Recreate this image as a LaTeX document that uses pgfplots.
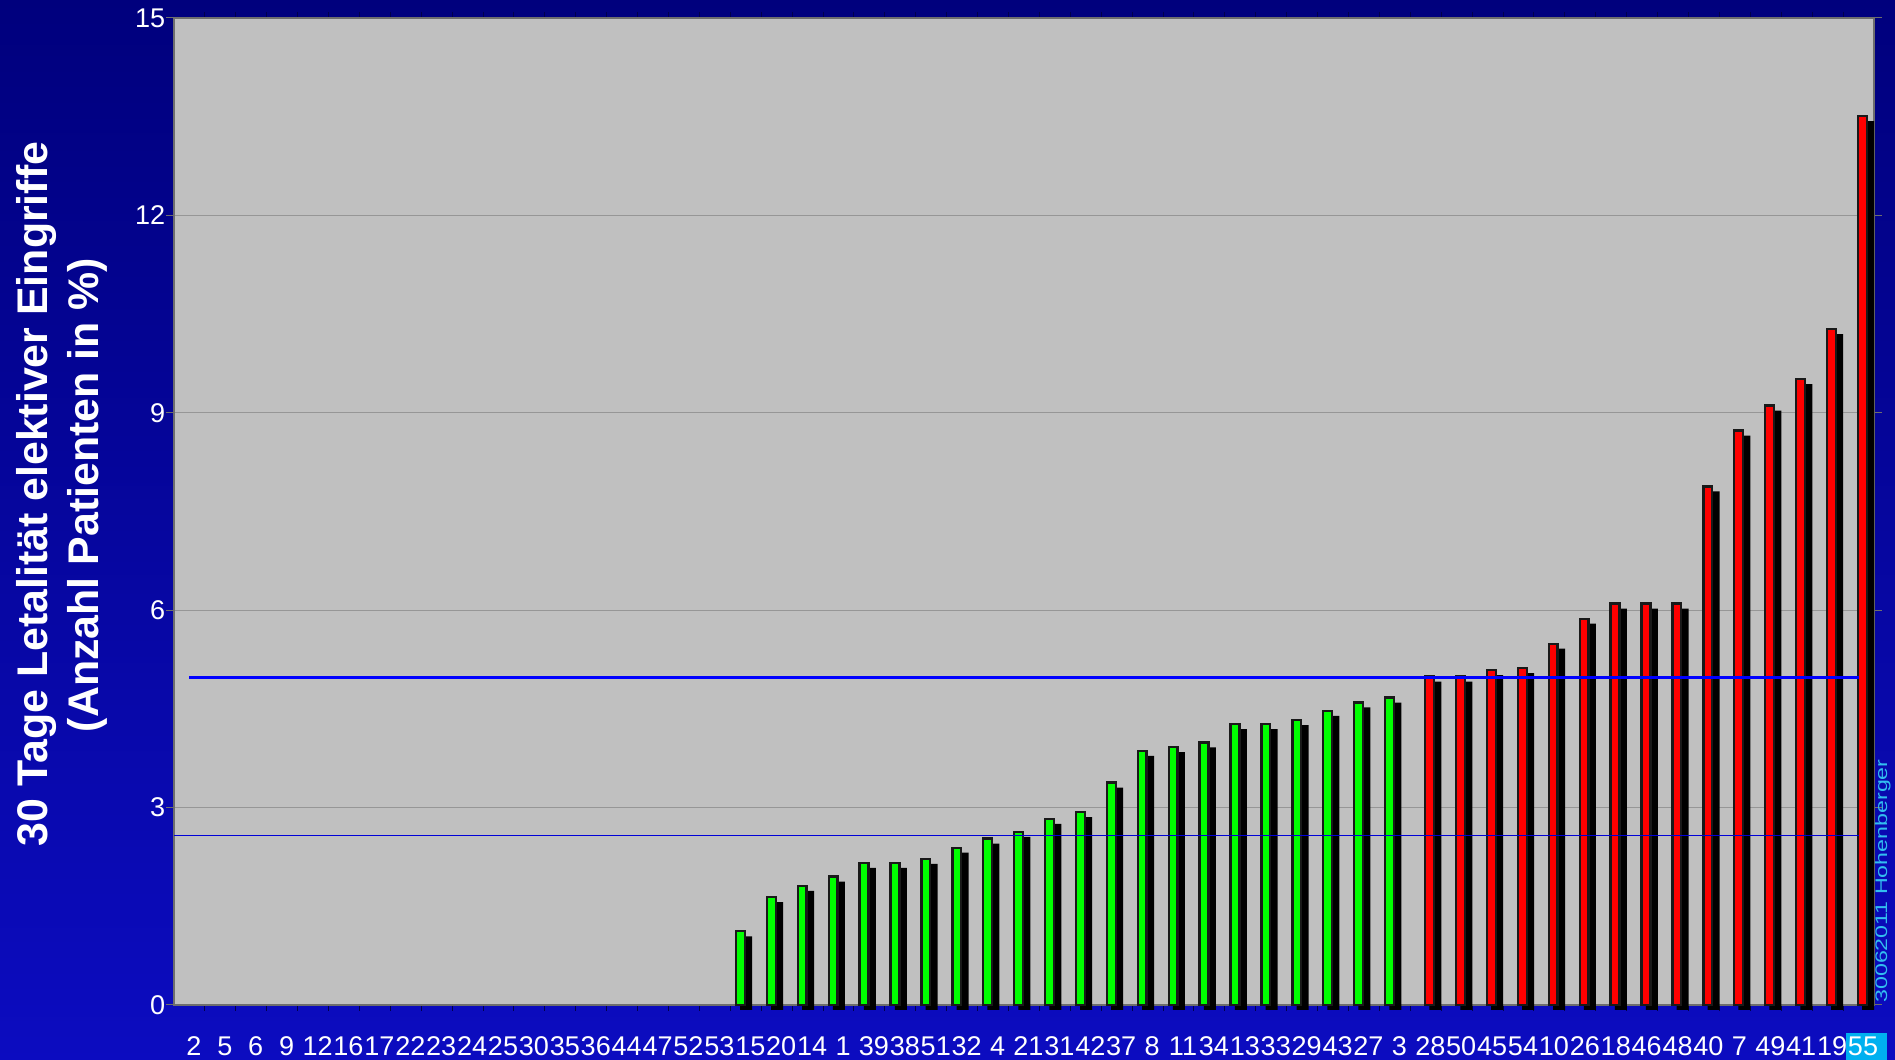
\documentclass[border=0pt]{standalone}
\usepackage{fontspec}
\setmainfont{Liberation Sans}
\usepackage{graphicx}
\usepackage{pgfplots}
\pgfplotsset{compat=1.18}
\usepackage{pgfplotstable}

\definecolor{bgtop}{RGB}{0,0,125}
\definecolor{bgmid}{RGB}{4,4,160}
\definecolor{bgbot}{RGB}{12,12,192}
\definecolor{plotgray}{RGB}{192,192,192}
\definecolor{gridgray}{RGB}{150,150,150}
\definecolor{bordergray}{RGB}{110,110,110}
\definecolor{barred}{RGB}{255,0,0}
\definecolor{bargreen}{RGB}{0,255,0}
\definecolor{linblue}{RGB}{0,0,255}
\definecolor{linblue2}{RGB}{0,0,215}
\definecolor{cyanbox}{RGB}{0,176,240}
\definecolor{cyantext}{RGB}{50,190,240}

\pgfplotstableread{
x y
18 1.12
19 1.64
20 1.81
21 1.95
22 2.16
23 2.16
24 2.22
25 2.39
26 2.53
27 2.63
28 2.83
29 2.93
30 3.38
31 3.86
32 3.92
33 3.99
34 4.27
35 4.27
36 4.33
37 4.47
38 4.60
39 4.67
}\greendata

\pgfplotstableread{
x y
40 4.99
41 4.99
42 5.09
43 5.12
44 5.49
45 5.87
46 6.10
47 6.10
48 6.10
49 7.88
50 8.73
51 9.11
52 9.51
53 10.27
54 13.51
}\reddata

\begin{document}
\begin{tikzpicture}
\useasboundingbox (-17.4mm,-5.5mm) rectangle (172.1mm,100.5mm);
\fill[top color=bgtop, middle color=bgmid, bottom color=bgbot] (-17.4mm,-5.5mm) rectangle (172.1mm,100.5mm);
\fill[cyanbox] (167.2mm,-5.5mm) rectangle (171.3mm,-2.8mm);
\begin{axis}[
  at={(0,0)}, anchor=south west,
  scale only axis, width=170mm, height=98.7mm,
  xmin=-0.5, xmax=54.5, ymin=0, ymax=15,
  clip=false,
  ytick={0,3,6,9,12,15},
  xtick={0,...,54},
  xticklabels={2,5,6,9,12,16,17,22,23,24,25,30,35,36,44,47,52,53,15,20,14,1,39,38,51,32,4,21,31,42,37,8,11,34,13,33,29,43,27,3,28,50,45,54,10,26,18,46,48,40,7,49,41,19,55},
  minor x tick num=1,
  ymajorgrids,
  grid style={draw=gridgray, line width=0.12mm},
  axis background/.style={fill=plotgray},
  axis line style={draw=bordergray, line width=0.25mm},
  tick align=outside,
  major tick length=0.8mm,
  minor tick length=0.6mm,
  every major x tick/.append style={draw=none},
  every minor x tick/.append style={draw=black!70!blue, line width=0.1mm},
  every major y tick/.append style={draw=bordergray, line width=0.1mm},
  /pgf/number format/assume math mode=true,
  xticklabel style={font=\fontsize{7.7}{9}\selectfont, text=white, anchor=base, inner sep=0pt, yshift=-4.3mm, xshift=0.45mm},
  yticklabel style={font=\fontsize{7.7}{9}\selectfont, text=white, anchor=east, inner sep=0pt, xshift=0mm},
]
% shadows
\addplot[ybar, bar width=1.2mm, bar shift=0.04mm, fill=black, draw=none, yshift=-0.5mm] table[x=x,y=y]{\greendata};
\addplot[ybar, bar width=1.2mm, bar shift=0.96mm, fill=black, draw=none, yshift=-0.5mm] table[x=x,y=y]{\reddata};
% coloured bars
\addplot[ybar, bar width=0.88mm, bar shift=-0.54mm, fill=bargreen, draw=black!90, line width=0.24mm] table[x=x,y=y]{\greendata};
\addplot[ybar, bar width=0.88mm, bar shift=0.38mm, fill=barred, draw=black!90, line width=0.24mm] table[x=x,y=y]{\reddata};
% reference lines
\addplot[linblue, line width=0.28mm] coordinates {(0,4.98) (54,4.98)};
\addplot[linblue2, line width=0.12mm] coordinates {(-0.5,2.57) (54,2.57)};
\end{axis}
\node[rotate=90, anchor=base, inner sep=0pt, text=white, font=\fontsize{12.2}{14}\selectfont\bfseries] at (-12.6mm,51.1mm) {30 Tage Letalität elektiver Eingriffe};
\node[rotate=90, anchor=base, inner sep=0pt, text=white, font=\fontsize{12.2}{14}\selectfont\bfseries] at (-7.5mm,51.0mm) {(Anzahl Patienten in \%)};
\node[rotate=90, anchor=base, inner sep=0pt, text=cyantext, font=\fontsize{6.6}{8}\selectfont] at (171.3mm,12.4mm) {\scalebox{1}[0.72]{30062011 Hohenberger}};
\end{tikzpicture}
\end{document}
